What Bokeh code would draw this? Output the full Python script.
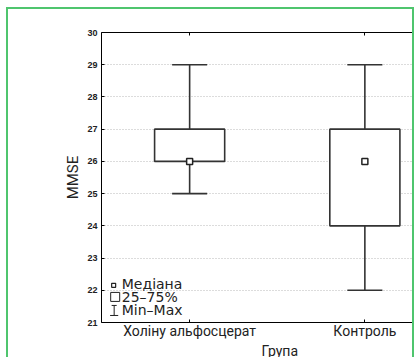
from bokeh.plotting import figure
from bokeh.models import LinearAxis, FixedTicker, Range1d, Title
from bokeh.core.properties import value
from bokeh.embed import file_html
from bokeh.resources import INLINE

# ---- data ----
groups = ["Холіну альфосцерат", "Контроль"]
mins = [25, 22]
q1 = [26, 24]
medians = [26, 26]
q3 = [27, 27]
maxs = [29, 29]
y_ticks = [21, 22, 23, 24, 25, 26, 27, 28, 29, 30]
legend_labels = ["Медіана", "25–75%", "Min–Max"]
x_label = "Група"
y_label = "MMSE"

xs = [i + 1 for i in range(len(groups))]

# ---- layout ----
W, H = 404, 348
BL, BT, BB, BR = 93, 23, 36, 0
FW, FH = W - BL - BR, H - BT - BB
x0, x1 = 0.497, 0.497 + FW / 173.0
y0, y1 = 21, 30

def fx(px):
    return x0 + px * (x1 - x0) / FW

def fy(py):
    return y0 + py * (y1 - y0) / FH

LINE = "#333333"
GREEN = "#4fc56e"

p = figure(width=W, height=H, x_range=Range1d(x0, x1), y_range=Range1d(y0, y1),
           output_backend="svg", toolbar_location=None,
           min_border_left=BL, min_border_top=BT, min_border_bottom=BB, min_border_right=BR,
           background_fill_color="white", border_fill_color="white")
p.styles = {"box-sizing": "content-box", "margin-left": "6px", "margin-top": "7px",
            "border-left": f"2px solid {GREEN}", "border-top": f"2px solid {GREEN}",
            "border-right": f"2px solid {GREEN}"}
p.outline_line_color = None

# axes
xa = p.xaxis[0]
xa.ticker = FixedTicker(ticks=xs)
xa.major_label_overrides = {x: g for x, g in zip(xs, groups)}
xa.major_label_text_font = "Roboto"
xa.major_label_text_font_size = "14px"
xa.major_label_text_color = "#222222"
xa.major_label_standoff = 0
xa.major_tick_in = 3
xa.major_tick_out = 0
xa.minor_tick_line_color = None
xa.axis_line_color = "black"
xa.major_tick_line_color = "black"

ya = p.yaxis[0]
ya.ticker = FixedTicker(ticks=y_ticks)
ya.major_label_text_font = "Liberation Sans"
ya.major_label_text_font_style = "bold"
ya.major_label_text_font_size = "9px"
ya.major_label_text_color = "#222222"
ya.major_label_standoff = 4
ya.major_tick_in = 3
ya.major_tick_out = 0
ya.minor_tick_line_color = None
ya.axis_line_color = "black"
ya.major_tick_line_color = "black"
ya.axis_label = y_label
ya.axis_label_text_font = "Roboto"
ya.axis_label_text_font_size = "15px"
ya.axis_label_text_font_style = "normal"
ya.axis_label_text_color = "#222222"
ya.axis_label_standoff = 2

top = LinearAxis(ticker=FixedTicker(ticks=xs), major_label_text_color=None,
                 major_tick_in=3, major_tick_out=0, minor_tick_line_color=None,
                 axis_line_color="black", major_tick_line_color="black")
p.add_layout(top, "above")

p.add_layout(Title(text=x_label, align="left", offset=160, standoff=0,
                   text_font="Roboto", text_font_size="14px", text_font_style="normal",
                   vertical_align="middle", text_color="#222222"), "below")

p.xgrid.grid_line_color = None
p.ygrid.ticker = FixedTicker(ticks=y_ticks)
p.ygrid.grid_line_color = "#b8b8b8"
p.ygrid.grid_line_dash = "1 2"
p.ygrid.grid_line_width = 1

# whiskers
p.segment(x0=xs, y0=q3, x1=xs, y1=maxs, line_color=LINE, line_width=1.6)
p.segment(x0=xs, y0=q1, x1=xs, y1=mins, line_color=LINE, line_width=1.6)
cap = 0.1
p.segment(x0=[x - cap for x in xs], y0=maxs, x1=[x + cap for x in xs], y1=maxs,
          line_color=LINE, line_width=1.6)
p.segment(x0=[x - cap for x in xs], y0=mins, x1=[x + cap for x in xs], y1=mins,
          line_color=LINE, line_width=1.6)
# boxes
p.vbar(x=xs, bottom=q1, top=q3, width=0.4, fill_color="white", line_color=LINE, line_width=1.6)
# medians
p.scatter(x=xs, y=medians, marker="square", size=6, fill_color="white",
          line_color="#222222", line_width=1.5)

# legend (drawn manually)
p.scatter(x=[fx(12)], y=[fy(37)], marker="square", size=4, fill_color="white",
          line_color="#222222", line_width=1.2)
p.rect(x=[fx(13.5)], y=[fy(25.5)], width=9, height=9, width_units="screen",
       height_units="screen", fill_color=None, line_color="#222222", line_width=1)
p.segment(x0=[fx(12.5), fx(10), fx(8.5)], y0=[fy(7), fy(17), fy(7)],
          x1=[fx(12.5), fx(15), fx(16.5)], y1=[fy(17), fy(17), fy(7)],
          line_color="#222222", line_width=1)
p.text(x=[fx(20)] * 3, y=[fy(38), fy(25), fy(12)], text=legend_labels,
       text_font=value("DejaVu Sans"), text_font_size="14px", text_color="#222222",
       text_align="left", text_baseline="middle")

open("out.html", "w").write(file_html(p, INLINE))
